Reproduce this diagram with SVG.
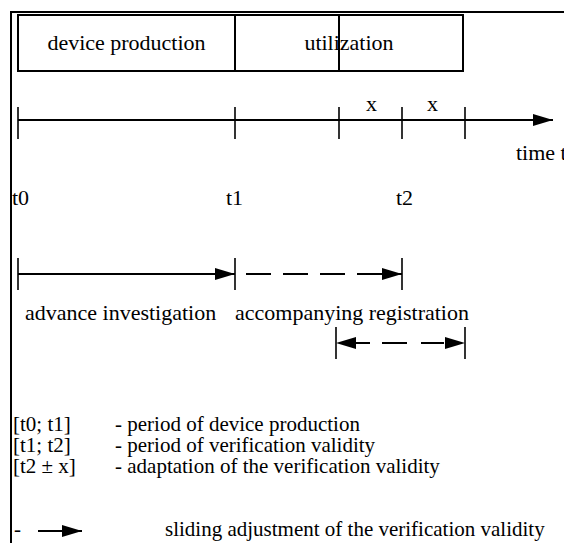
<svg xmlns="http://www.w3.org/2000/svg" width="564" height="543" viewBox="0 0 564 543">
<style>
  text { font-family: "Liberation Serif", "Times New Roman", "DejaVu Serif", serif; fill: #000; }
  .t { font-size: 22px; }
  .lg { font-size: 21px; }
  .box { fill: #fff; stroke: #000; stroke-width: 2; }
  .ln { stroke: #000; stroke-width: 2; fill: none; }
  .tick { stroke: #000; stroke-width: 1.6; }
  .dash { stroke: #000; stroke-width: 2.2; fill: none; stroke-dasharray: 25 12; }
</style>
<defs>
  <marker id="ah" markerUnits="userSpaceOnUse" markerWidth="21" markerHeight="14" refX="20" refY="7" orient="auto-start-reverse">
    <path d="M0,1 L20,7 L0,13 z" fill="#000"/>
  </marker>
</defs>
<rect width="564" height="543" fill="#fff"/>
<g id="frame">
  <line x1="11" y1="12" x2="564" y2="12" class="ln"/>
  <line x1="11" y1="11" x2="11" y2="543" class="ln"/>
</g>
<g id="box-production">
  <rect x="18" y="15" width="217" height="56" class="box"/>
  <text x="126.5" y="50" class="t" text-anchor="middle">device production</text>
</g>
<g id="box-utilization">
  <rect x="235" y="15" width="228" height="56" class="box"/>
  <text x="349" y="50" class="t" text-anchor="middle">utilization</text>
  <line x1="339" y1="15" x2="339" y2="71" class="ln"/>
</g>
<g id="connectors">
  <line x1="18" y1="120" x2="553" y2="120" class="ln" marker-end="url(#ah)"/>
  <line x1="18" y1="107" x2="18" y2="139" class="tick"/>
  <line x1="235" y1="107" x2="235" y2="139" class="tick"/>
  <line x1="339" y1="107" x2="339" y2="139" class="tick"/>
  <line x1="402" y1="107" x2="402" y2="139" class="tick"/>
  <line x1="465" y1="107" x2="465" y2="139" class="tick"/>
  <line x1="18" y1="258" x2="18" y2="290" class="tick"/>
  <line x1="235" y1="258" x2="235" y2="290" class="tick"/>
  <line x1="402" y1="258" x2="402" y2="290" class="tick"/>
  <line x1="18" y1="274" x2="235" y2="274" class="ln" marker-end="url(#ah)"/>
  <line x1="246" y1="274" x2="402" y2="274" class="dash" marker-end="url(#ah)"/>
  <line x1="336" y1="327" x2="336" y2="359" class="tick"/>
  <line x1="465" y1="327" x2="465" y2="359" class="tick"/>
  <line x1="336" y1="343" x2="465" y2="343" class="dash" style="stroke-dasharray: 0 20 14 12 25 14 23 100" marker-start="url(#ah)" marker-end="url(#ah)"/>
</g>
<g id="timeline-labels">
  <text x="366" y="111" class="t">x</text>
  <text x="427" y="111" class="t">x</text>
  <text x="516" y="160" class="t">time t</text>
  <text x="12" y="205" class="t">t0</text>
  <text x="226" y="205" class="t">t1</text>
  <text x="396" y="205" class="t">t2</text>
  <text x="25" y="320" class="t">advance investigation</text>
  <text x="235" y="320" class="t">accompanying registration</text>
</g>
<g id="legend">
  <text x="13" y="431" class="lg">[t0; t1]</text>
  <text x="115" y="431" class="lg">- period of device production</text>
  <text x="13" y="452" class="lg">[t1; t2]</text>
  <text x="115" y="452" class="lg">- period of verification validity</text>
  <text x="13" y="473" class="lg">[t2 ± x]</text>
  <text x="115" y="473" class="lg">- adaptation of the verification validity</text>
  <text x="14" y="536" class="lg">-</text>
  <line x1="38" y1="531" x2="82" y2="531" class="ln" marker-end="url(#ah)"/>
  <text x="165" y="536" class="lg">sliding adjustment of the verification validity</text>
</g>
</svg>
